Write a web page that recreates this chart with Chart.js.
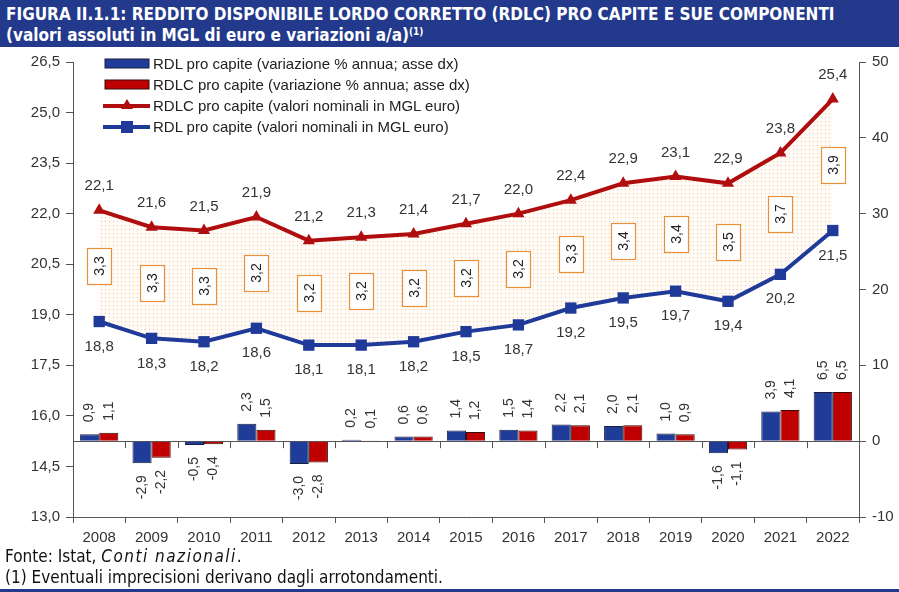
<!DOCTYPE html>
<html><head><meta charset="utf-8">
<script src="https://cdn.jsdelivr.net/npm/chart.js@4"></script>
<style>
body{margin:0;width:899px;height:592px;background:#fff;position:relative;overflow:hidden;font-family:"Liberation Sans",Arial,sans-serif;}
#wrap{position:absolute;left:0;top:0;width:899px;height:592px;}
#title{position:absolute;left:0;top:0;width:899px;height:47px;background:#22398C;color:#fff;font-family:"Liberation Sans Narrow","DejaVu Sans Condensed",sans-serif;font-weight:bold;font-size:17px;line-height:21px;padding:4px 0 0 6px;box-sizing:border-box;white-space:nowrap;}
#title sup{font-size:10px;vertical-align:6px;line-height:0}
#legend{position:absolute;left:103px;top:53px;font-size:15px;color:#222;}
.row{height:21px;display:flex;align-items:center;white-space:nowrap}
.sw{width:47px;height:21px;margin-right:3px;display:block}
#foot{position:absolute;left:5px;top:546px;font-family:"Liberation Sans Narrow","DejaVu Sans Condensed",sans-serif;font-size:17px;line-height:21px;color:#111;white-space:nowrap}
#foot i{letter-spacing:1.5px}
#bot{position:absolute;left:0;top:589px;width:899px;height:3px;background:#22398C}
</style></head>
<body>
<div id="wrap"><canvas id="c" width="899" height="592"></canvas></div>
<div id="title">FIGURA II.1.1: REDDITO DISPONIBILE LORDO CORRETTO (RDLC) PRO CAPITE E SUE COMPONENTI<br>(valori assoluti in MGL di euro e variazioni a/a)<sup>(1)</sup></div>
<div id="legend">
 <div class="row"><svg class="sw"><rect x="2" y="6" width="44" height="9" fill="#1F3C98" stroke="#1a1f40" stroke-width="1"/></svg>RDL pro capite (variazione % annua; asse dx)</div>
 <div class="row"><svg class="sw"><rect x="2" y="6" width="44" height="9" fill="#C00000" stroke="#3a0a0a" stroke-width="1"/></svg>RDLC pro capite (variazione % annua; asse dx)</div>
 <div class="row"><svg class="sw"><line x1="0" y1="11" x2="47" y2="11" stroke="#B00E0E" stroke-width="4"/><polygon points="24,4 30,14 18,14" fill="#B00E0E"/></svg>RDLC pro capite (valori nominali in MGL euro)</div>
 <div class="row"><svg class="sw"><line x1="0" y1="11" x2="47" y2="11" stroke="#1F3A98" stroke-width="4"/><rect x="18" y="5" width="12" height="12" fill="#1F3A98"/></svg>RDL pro capite (valori nominali in MGL euro)</div>
</div>
<div id="foot">Fonte: Istat, <i>Conti nazionali</i>.<br>(1) Eventuali imprecisioni derivano dagli arrotondamenti.</div>
<div id="bot"></div>
<script>
const years = ['2008','2009','2010','2011','2012','2013','2014','2015','2016','2017','2018','2019','2020','2021','2022'];
const rdlNominal  = [18.8,18.3,18.2,18.6,18.1,18.1,18.2,18.5,18.7,19.2,19.5,19.7,19.4,20.2,21.5];
const rdlcNominal = [22.1,21.6,21.5,21.9,21.2,21.3,21.4,21.7,22.0,22.4,22.9,23.1,22.9,23.8,25.4];
const rdlChange   = [0.9,-2.9,-0.5,2.3,-3.0,0.2,0.6,1.4,1.5,2.2,2.0,1.0,-1.6,3.9,6.5];
const rdlcChange  = [1.1,-2.2,-0.4,1.5,-2.8,0.1,0.6,1.2,1.4,2.1,2.1,0.9,-1.1,4.1,6.5];
const gap         = [3.3,3.3,3.3,3.2,3.2,3.2,3.2,3.2,3.2,3.3,3.4,3.4,3.5,3.7,3.9];
const leftTicks  = {min:13, max:26.5, step:1.5};
const rightTicks = {min:-10, max:50, step:10};

const FONT = '"Liberation Sans", Arial, sans-serif';
const fmt = v => v.toFixed(1).replace('.', ',');

const pc = document.createElement('canvas'); pc.width = 4; pc.height = 4;
const pg = pc.getContext('2d');
pg.fillStyle = '#fffcf8'; pg.fillRect(0,0,4,4);
pg.fillStyle = 'rgba(238,150,75,0.6)'; pg.fillRect(1,1,1,1);
const pattern = pg.createPattern(pc, 'repeat');

const extras = {
  id:'extras',
  afterDatasetsDraw(chart){
    const {ctx, scales:{x, y, y1}} = chart;
    ctx.save();
    const y0 = y1.getPixelForValue(0);
    ctx.strokeStyle = '#555'; ctx.lineWidth = 1;
    const w = (x.right - x.left) / years.length;
    for (let k = 1; k < years.length; k++) {
      const bx = Math.round(x.left + k*w) + 0.5;
      ctx.beginPath(); ctx.moveTo(bx, y0); ctx.lineTo(bx, y0 + 7); ctx.stroke();
    }
    ctx.fillStyle = '#333'; ctx.textAlign = 'center'; ctx.textBaseline = 'middle';
    ctx.font = '15px ' + FONT;
    chart.getDatasetMeta(2).data.forEach((p,i) => ctx.fillText(fmt(rdlcNominal[i]), p.x, p.y - 24));
    chart.getDatasetMeta(3).data.forEach((p,i) => ctx.fillText(fmt(rdlNominal[i]), p.x, p.y + 25));
    ctx.font = '14px ' + FONT;
    [[0, rdlChange],[1, rdlcChange]].forEach(([di, vals]) => {
      chart.getDatasetMeta(di).data.forEach((b,i) => {
        const v = vals[i];
        ctx.save();
        ctx.translate(b.x, v >= 0 ? b.y - 12 : b.y + 12);
        ctx.rotate(-Math.PI/2);
        ctx.textAlign = v >= 0 ? 'left' : 'right';
        ctx.fillText(fmt(v), 0, 0);
        ctx.restore();
      });
    });
    const mB = chart.getDatasetMeta(3).data;
    gap.forEach((g,i) => {
      const cx = Math.round(mB[i].x);
      const cy = Math.round(y.getPixelForValue((rdlcNominal[i] + rdlNominal[i]) / 2));
      const bw = 24, bh = 36;
      ctx.fillStyle = '#fff';
      ctx.fillRect(cx - bw/2, cy - bh/2, bw, bh);
      ctx.lineWidth = 1.2;
      ctx.strokeStyle = '#E8913A';
      ctx.strokeRect(cx - bw/2 + 0.5, cy - bh/2 + 0.5, bw, bh);
      ctx.save();
      ctx.translate(cx, cy); ctx.rotate(-Math.PI/2);
      ctx.fillStyle = '#222'; ctx.textAlign = 'center'; ctx.textBaseline = 'middle';
      ctx.font = '14px ' + FONT;
      ctx.fillText(fmt(g), 0, 1);
      ctx.restore();
    });
    ctx.restore();
  }
};

new Chart(document.getElementById('c'), {
  type: 'bar',
  data: {
    labels: years,
    datasets: [
      {type:'bar', label:'RDL pro capite (variazione % annua; asse dx)', data: rdlChange, yAxisID:'y1',
       backgroundColor:'#1F3C98', borderColor:'#1a1f40', borderWidth:1, categoryPercentage:0.73, barPercentage:1, order:2},
      {type:'bar', label:'RDLC pro capite (variazione % annua; asse dx)', data: rdlcChange, yAxisID:'y1',
       backgroundColor:'#C00000', borderColor:'#3a0a0a', borderWidth:1, categoryPercentage:0.73, barPercentage:1, order:2},
      {type:'line', label:'RDLC pro capite (valori nominali in MGL euro)', data: rdlcNominal, yAxisID:'y',
       borderColor:'#B00E0E', backgroundColor:'#B00E0E', borderWidth:4, pointStyle:'triangle', pointRadius:7,
       pointBorderWidth:0, tension:0, fill:false, order:0},
      {type:'line', label:'RDL pro capite (valori nominali in MGL euro)', data: rdlNominal, yAxisID:'y',
       borderColor:'#1F3A98', backgroundColor:pattern, pointBackgroundColor:'#1F3A98', borderWidth:4, pointStyle:'rect', pointRadius:8,
       pointBorderWidth:0, tension:0, fill:'-1', order:1}
    ]
  },
  options: {
    responsive:false, animation:false, devicePixelRatio:1,
    layout:{padding:{top:62, left:0, right:0, bottom:0}},
    plugins:{legend:{display:false}, tooltip:{enabled:false}},
    scales:{
      x:{type:'category', offset:true,
         grid:{display:true, drawOnChartArea:false, offset:true, tickLength:6, color:'#555'},
         border:{display:true, color:'#555'},
         ticks:{font:{size:15, family:FONT}, color:'#333', padding:6, maxRotation:0, autoSkip:false},
         afterFit(s){ s.height = 75; }},
      y:{position:'left', min:leftTicks.min, max:leftTicks.max,
         ticks:{stepSize:leftTicks.step, callback:v=>fmt(v), font:{size:15, family:FONT}, color:'#333', padding:6},
         grid:{drawOnChartArea:false, tickLength:7, color:'#555'},
         border:{display:true, color:'#555'},
         afterFit(s){ s.width = 73; }},
      y1:{position:'right', min:rightTicks.min, max:rightTicks.max,
         ticks:{stepSize:rightTicks.step, font:{size:15, family:FONT}, color:'#333', padding:6},
         grid:{drawOnChartArea:true, color:c => (c.tick && c.tick.value === 0) ? '#555' : 'rgba(0,0,0,0)', tickColor:'#555', tickLength:7},
         border:{display:true, color:'#555'},
         afterFit(s){ s.width = 40; }}
    }
  },
  plugins:[extras]
});
</script>
</body></html>
